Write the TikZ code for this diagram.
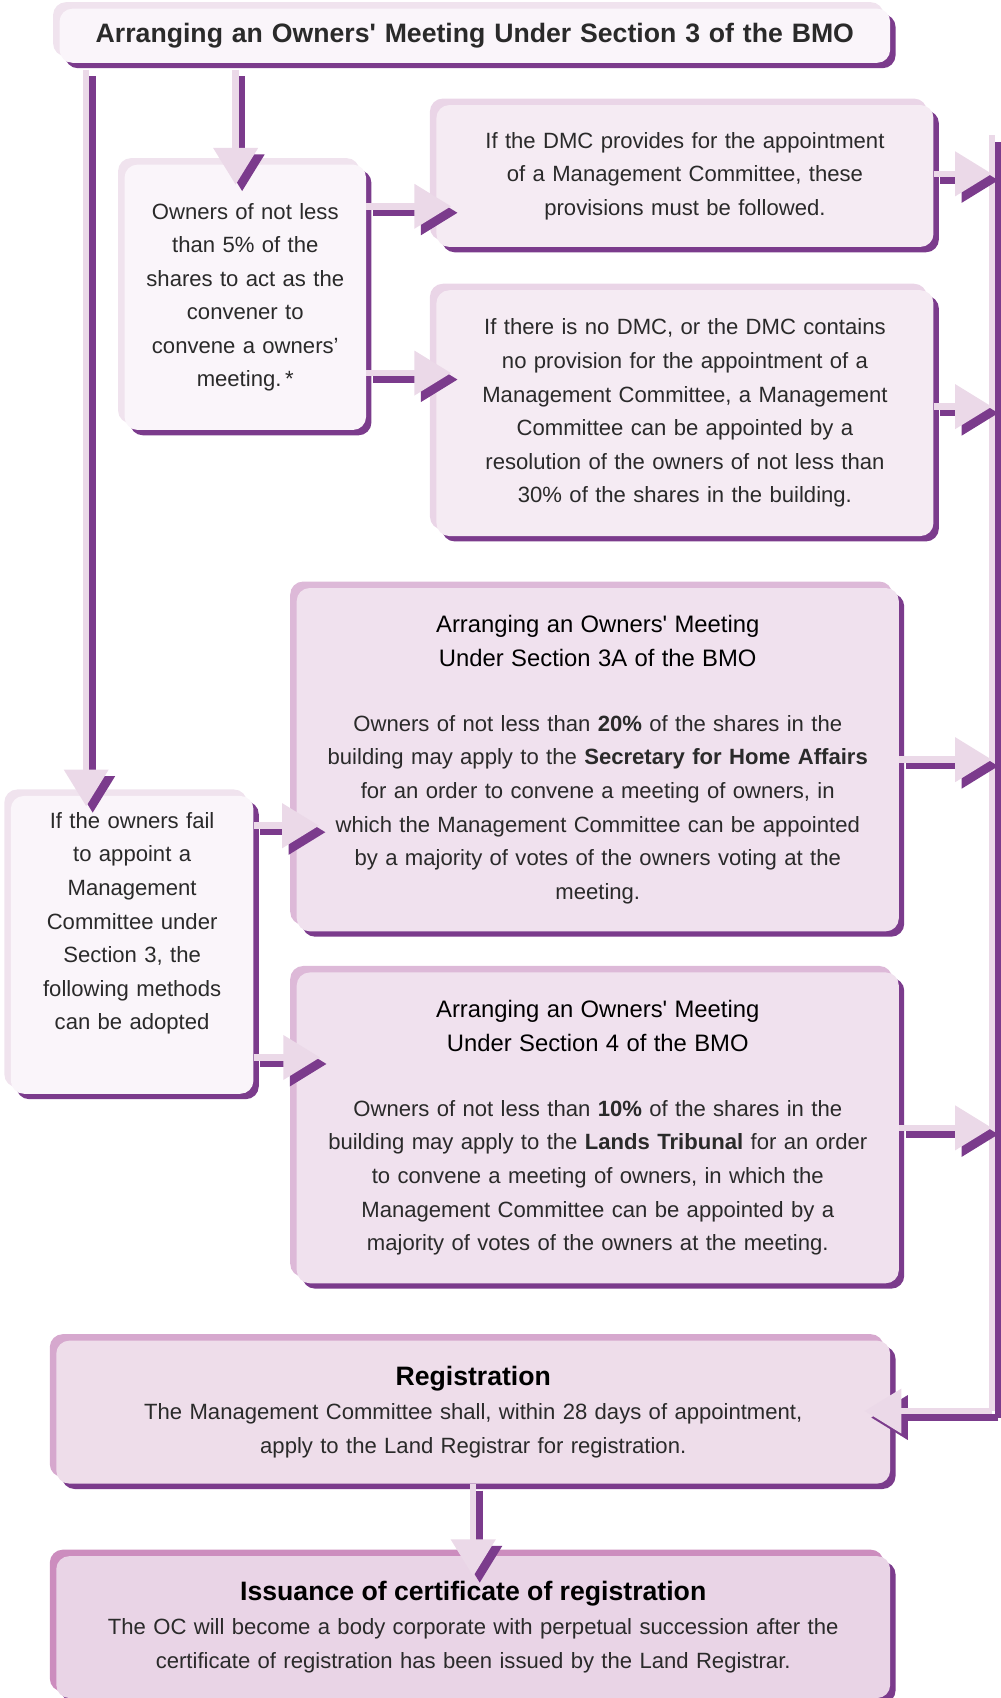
\documentclass[tikz,border=0pt]{standalone}
\usepackage{fontspec}
\setmainfont{Liberation Sans}
\usetikzlibrary{positioning,arrows.meta,shadows,calc}

\definecolor{purp}{HTML}{7B3B8C}
\definecolor{pipelight}{HTML}{EBD9E8}
\definecolor{fillA}{HTML}{FAF5FA}
\definecolor{bandA}{HTML}{F0E3EE}
\definecolor{fillB}{HTML}{F5EBF3}
\definecolor{bandB}{HTML}{EAD5E7}
\definecolor{fillC}{HTML}{F0E1EE}
\definecolor{bandC}{HTML}{DDB9D8}
\definecolor{fillD}{HTML}{EEDDEA}
\definecolor{bandD}{HTML}{D6A8CE}
\definecolor{fillE}{HTML}{E9D4E6}
\definecolor{bandE}{HTML}{CC8DBE}
\definecolor{txt}{HTML}{2A2A2A}

\newcommand\txtbody{\fontsize{10.2pt}{15.5pt}\selectfont}
\newcommand\txthead{\fontsize{12.3pt}{15.5pt}\selectfont\bfseries\color{black}}
\newcommand\txtsub{\fontsize{11pt}{15.5pt}\selectfont\color{black}}

\tikzset{
  panel/.style 2 args={rectangle, rounded corners=6pt, fill=#1, inner sep=0pt,
    align=center, text=txt, font=\txtbody,
    general shadow={fill=purp, shadow xshift=2.5pt, shadow yshift=-2.5pt},
    general shadow={fill=#2, shadow xshift=-3pt, shadow yshift=3pt}},
  paleA/.style={panel={fillA}{bandA}},
  paleB/.style={panel={fillB}{bandB}},
  paleC/.style={panel={fillC}{bandC}},
  paleD/.style={panel={fillD}{bandD}},
  paleE/.style={panel={fillE}{bandE}},
  bus/.style={draw=pipelight, line width=3pt,
    preaction={draw=purp, line width=3pt, transform canvas={shift={(3pt,-3pt)}}}},
  pipe/.style={bus, -{Triangle[width=20pt,length=17pt]}}
}

\begin{document}
\begin{tikzpicture}[x=0.5pt,y=-0.5pt]
\useasboundingbox (0,0) rectangle (924,1568);

\node[paleA, minimum width=383.5pt, minimum height=25pt, text width=375pt, font=\txthead] (title) at (438.5,33)
  {Arranging an Owners\textquotesingle{} Meeting Under Section 3 of the BMO};
\node[paleA, minimum width=111.5pt, minimum height=122.5pt, text width=108pt] (conv) at (226.5,274.5)
  {Owners of not less\\ than 5\% of the\\ shares to act as the\\ convener to\\ convene a owners’\\ meeting.\,*};
\node[paleB, minimum width=229.5pt, minimum height=65.5pt, text width=222pt] (dmc1) at (632.5,162.5)
  {If the DMC provides for the appointment\\ of a Management Committee, these\\ provisions must be followed.};
\node[paleB, minimum width=229.5pt, minimum height=113.5pt, text width=222pt] (dmc2) at (632.5,381.5)
  {If there is no DMC, or the DMC contains\\ no provision for the appointment of a\\ Management Committee, a Management\\ Committee can be appointed by a\\ resolution of the owners of not less than\\ 30\% of the shares in the building.};
\node[paleC, minimum width=278pt, minimum height=158.5pt, text width=272pt] (s3a) at (552,701.5)
  {{\txtsub Arranging an Owners\textquotesingle{} Meeting\\ Under Section 3A of the BMO}\\[14.5pt]
   Owners of not less than \textbf{20\%} of the shares in the\\ building may apply to the \textbf{Secretary for Home Affairs}\\ for an order to convene a meeting of owners, in\\ which the Management Committee can be appointed\\ by a majority of votes of the owners voting at the\\ meeting.};
\node[paleA, minimum width=112pt, minimum height=137.5pt, text width=108pt, text depth=115pt] (fail) at (122,872.5)
  {If the owners fail\\ to appoint a\\ Management\\ Committee under\\ Section 3, the\\ following methods\\ can be adopted};
\node[paleC, minimum width=278pt, minimum height=143.5pt, text width=272pt] (s4) at (552,1041.5)
  {{\txtsub Arranging an Owners\textquotesingle{} Meeting\\ Under Section 4 of the BMO}\\[14.5pt]
   Owners of not less than \textbf{10\%} of the shares in the\\ building may apply to the \textbf{Lands Tribunal} for an order\\ to convene a meeting of owners, in which the\\ Management Committee can be appointed by a\\ majority of votes of the owners at the meeting.};
\node[paleD, minimum width=385pt, minimum height=66pt, text width=378pt] (reg) at (437,1304)
  {{\txthead Registration}\\ The Management Committee shall, within 28 days of appointment,\\ apply to the Land Registrar for registration.};
\node[paleE, minimum width=385pt, minimum height=65.5pt, text width=378pt] (iss) at (437,1502.5)
  {{\txthead Issuance of certificate of registration}\\ The OC will become a body corporate with perpetual succession after the\\ certificate of registration has been issued by the Land Registrar.};

\coordinate (tl1) at ($(title.south west)+(25,6)$);
\coordinate (tl2) at ($(title.south west)+(163,6)$);
\draw[pipe] (tl1) -- ($(tl1 |- fail.north)+(0,10)$);
\draw[pipe] (tl2) -- ($(tl2 |- conv.north)+(0,19)$);

\coordinate (c1) at ($(conv.east)+(0,-84)$);
\coordinate (c2) at ($(conv.east)+(0,70)$);
\draw[pipe] (c1) -- ($(c1 -| dmc1.west)+(14,0)$);
\draw[pipe] (c2) -- ($(c2 -| dmc2.west)+(14,0)$);

\coordinate (bustop) at (916,125);
\coordinate (busbot) at (916,1303);
\draw[bus] (bustop) -- (busbot);
\draw[pipe] (busbot) -- ($(busbot -| reg.east)+(-24,0)$);

\coordinate (d1) at ($(dmc1.east)+(0,-2)$);
\coordinate (d2) at ($(dmc2.east)+(0,-6)$);
\draw[pipe] (d1) -- (d1 -| bustop);
\draw[pipe] (d2) -- (d2 -| bustop);
\draw[pipe] (s3a.east) -- (s3a.east -| bustop);
\draw[pipe] (s4.east) -- (s4.east -| bustop);

\coordinate (f1) at ($(fail.east)+(0,-110)$);
\coordinate (f2) at ($(fail.east)+(0,104)$);
\draw[pipe] (f1) -- ($(f1 -| s3a.west)+(21,0)$);
\draw[pipe] (f2) -- ($(f2 -| s4.west)+(22,0)$);

\draw[pipe] (reg.south) -- ($(iss.north)+(0,19)$);
\end{tikzpicture}
\end{document}
